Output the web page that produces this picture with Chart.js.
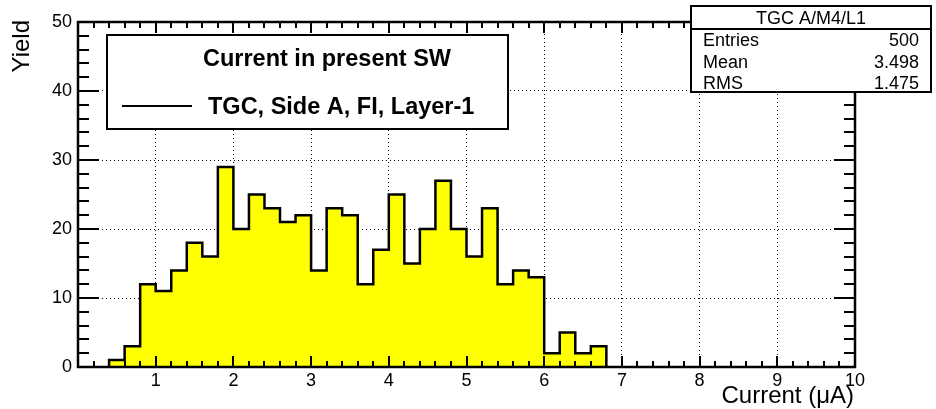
<!DOCTYPE html>
<html><head><meta charset="utf-8">
<script src="https://cdn.jsdelivr.net/npm/chart.js@4/dist/chart.umd.min.js"></script>
<style>html,body{margin:0;padding:0;background:#fff;overflow:hidden}#wrap{width:936px;height:409px;position:relative}</style>
</head><body><div id="wrap"><canvas id="c"></canvas></div>
<script>
// ---- data (bin width 0.2 uA) ----
const binLowEdges = [0.4,0.6,0.8,1.0,1.2,1.4,1.6,1.8,2.0,2.2,2.4,2.6,2.8,3.0,3.2,3.4,3.6,3.8,4.0,4.2,4.4,4.6,4.8,5.0,5.2,5.4,5.6,5.8,6.0,6.2,6.4,6.6];
const binWidth = 0.2;
const counts = [1,3,12,11,14,18,16,29,20,25,23,21,22,14,23,22,12,17,25,15,20,27,20,16,23,12,14,13,2,5,2,3];
const xRange = [0, 10];
const yRange = [0, 50];
const xMajorStep = 1, xMinorStep = 0.2;
const yMajorStep = 10, yMinorStep = 2;
const xTitle = 'Current (\u03bcA)';
const yTitle = 'Yield';
const legendHeader = 'Current in present SW';
const legendEntry = 'TGC, Side A, FI, Layer-1';
const statsTitle = 'TGC A/M4/L1';
const statLabels = ['Entries', 'Mean', 'RMS'];
const statValues = ['500', '3.498', '1.475'];

// step outline points: each bin's left edge carries its count, closed at the last right edge
const histPoints = [{x: binLowEdges[0], y: 0}];
binLowEdges.forEach((e, i) => histPoints.push({x: e, y: counts[i]}));
histPoints.push({x: binLowEdges[binLowEdges.length - 1] + binWidth, y: 0});

const FONT = '"Liberation Sans", Arial, Helvetica, sans-serif';

const rootPlugin = {
  id: 'rootStyle',
  afterDatasetsDraw(chart) {
    const ctx = chart.ctx, a = chart.chartArea;
    const xs = chart.scales.x, ys = chart.scales.y;
    ctx.save();
    ctx.strokeStyle = '#000';
    ctx.lineWidth = 2;
    ctx.lineCap = 'butt';
    const eps = 1e-9;
    ctx.beginPath();
    for (let k = 0; xRange[0] + k * xMinorStep <= xRange[1] + eps; k++) {
      const v = xRange[0] + k * xMinorStep;
      const major = Math.abs(v / xMajorStep - Math.round(v / xMajorStep)) < 1e-6;
      const len = major ? 11 : 6;
      const px = Math.round(xs.getPixelForValue(v));
      ctx.moveTo(px, a.bottom); ctx.lineTo(px, a.bottom - len);
      ctx.moveTo(px, a.top); ctx.lineTo(px, a.top + len);
    }
    for (let k = 0; yRange[0] + k * yMinorStep <= yRange[1] + eps; k++) {
      const v = yRange[0] + k * yMinorStep;
      const major = Math.abs(v / yMajorStep - Math.round(v / yMajorStep)) < 1e-6;
      const len = major ? 21 : 11;
      const py = Math.round(ys.getPixelForValue(v));
      ctx.moveTo(a.left, py); ctx.lineTo(a.left + len, py);
      ctx.moveTo(a.right, py); ctx.lineTo(a.right - len, py);
    }
    ctx.stroke();
    ctx.lineWidth = 2.5;
    ctx.strokeRect(a.left, a.top, a.right - a.left, a.bottom - a.top);

    // axis titles
    ctx.fillStyle = '#000';
    ctx.font = '24px ' + FONT;
    ctx.textAlign = 'right';
    ctx.textBaseline = 'alphabetic';
    ctx.fillText(xTitle, a.right - 1, 403);
    ctx.save();
    ctx.translate(29, a.top - 2);
    ctx.rotate(-Math.PI / 2);
    ctx.textAlign = 'right';
    ctx.fillText(yTitle, 0, 0);
    ctx.restore();

    // legend box
    const lb = {x: 107, y: 35, w: 401, h: 94};
    ctx.fillStyle = '#fff';
    ctx.fillRect(lb.x, lb.y, lb.w, lb.h);
    ctx.lineWidth = 2;
    ctx.strokeRect(lb.x, lb.y, lb.w, lb.h);
    ctx.fillStyle = '#000';
    ctx.font = 'bold 23.5px ' + FONT;
    ctx.textAlign = 'center';
    ctx.fillText(legendHeader, 327, 66);
    ctx.beginPath();
    ctx.moveTo(122, 106); ctx.lineTo(192, 106);
    ctx.stroke();
    ctx.textAlign = 'left';
    ctx.fillText(legendEntry, 208, 114);

    // stats box
    const sb = {x: 691, y: 6, w: 240, h: 86, hh: 23};
    ctx.fillStyle = '#fff';
    ctx.fillRect(sb.x, sb.y, sb.w, sb.h);
    ctx.strokeRect(sb.x, sb.y, sb.w, sb.h);
    ctx.beginPath();
    ctx.moveTo(sb.x, sb.y + sb.hh); ctx.lineTo(sb.x + sb.w, sb.y + sb.hh);
    ctx.stroke();
    ctx.fillStyle = '#000';
    ctx.font = '18px ' + FONT;
    ctx.textAlign = 'center';
    ctx.fillText(statsTitle, sb.x + sb.w / 2, sb.y + 18);
    statLabels.forEach((lab, i) => {
      const by = sb.y + sb.hh + 17 + i * 21.5;
      ctx.textAlign = 'left';
      ctx.fillText(lab, sb.x + 12, by);
      ctx.textAlign = 'right';
      ctx.fillText(statValues[i], sb.x + sb.w - 12, by);
    });
    ctx.restore();
  }
};

new Chart(document.getElementById('c'), {
  type: 'line',
  data: {
    datasets: [{
      data: histPoints,
      stepped: 'before',
      borderColor: '#000',
      borderWidth: 2.5,
      borderJoinStyle: 'miter',
      backgroundColor: '#ffff00',
      fill: 'origin',
      pointRadius: 0,
      pointHoverRadius: 0,
      tension: 0
    }]
  },
  options: {
    responsive: true,
    maintainAspectRatio: false,
    animation: false,
    events: [],
    layout: {padding: {left: 0, top: 22, right: 81, bottom: 0}},
    plugins: {legend: {display: false}, tooltip: {enabled: false}, title: {display: false}},
    scales: {
      x: {
        type: 'linear', min: xRange[0], max: xRange[1],
        afterFit(s) { s.height = 42; },
        ticks: {
          stepSize: xMajorStep, padding: 3, color: '#000',
          font: {family: FONT, size: 18},
          maxRotation: 0,
          callback: v => (v === 0 ? '' : v)
        },
        grid: {color: '#000', lineWidth: 1, drawTicks: false},
        border: {display: false, dash: [1, 3]}
      },
      y: {
        type: 'linear', min: yRange[0], max: yRange[1],
        afterFit(s) { s.width = 78; },
        ticks: {
          stepSize: yMajorStep, padding: 6, color: '#000',
          font: {family: FONT, size: 18}
        },
        grid: {color: '#000', lineWidth: 1, drawTicks: false},
        border: {display: false, dash: [1, 3]}
      }
    }
  },
  plugins: [rootPlugin]
});
</script>
</body></html>
